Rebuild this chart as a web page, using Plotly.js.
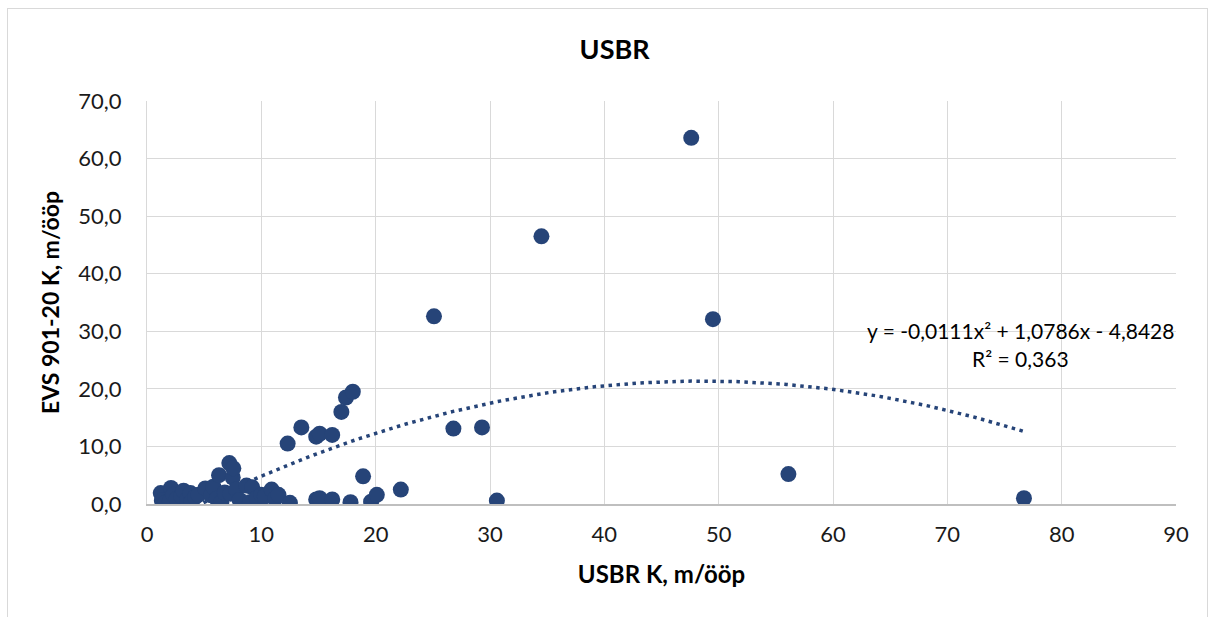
<!DOCTYPE html>
<html>
<head>
<meta charset="utf-8">
<script src="https://cdn.plot.ly/plotly-3.0.1.min.js"></script>
<style>
  html, body { margin: 0; padding: 0; background: #ffffff; }
  #wrap { position: relative; width: 1217px; height: 617px; overflow: hidden; }
  #chart { position: absolute; left: 0; top: 0; width: 1217px; height: 617px; }
  #frame { position: absolute; left: 7px; top: 8px; width: 1199px; height: 700px;
           border: 1px solid #d9d9d9; pointer-events: none; }
</style>
</head>
<body>
<div id="wrap">
  <div id="chart"></div>
  <div id="frame"></div>
</div>
<script>
// USBR K versus EVS 901-20 K, both in m/ööp
const usbrK = [
  1.2, 1.3, 1.6, 2.0, 2.1, 2.3, 2.6, 3.0, 3.2, 3.5,
  3.8, 3.9, 4.2, 4.5, 5.1, 5.6, 5.8, 6.1, 6.3, 6.5,
  6.8, 7.2, 7.5, 7.55, 7.3, 7.8, 8.1, 8.7, 9.0, 9.2,
  9.6, 10.0, 10.3, 10.9, 11.2, 11.5, 12.3, 12.5, 13.5, 14.8,
  15.1, 14.8, 15.0, 15.1, 16.2, 16.2, 17.0, 17.4, 18.0, 17.8,
  18.9, 19.6, 20.1, 22.2, 25.1, 26.8, 29.3, 30.6, 34.5, 47.6,
  49.5, 56.1, 76.7
];
const evsK = [
  1.9, 0.6, 0.2, 0.5, 2.8, 1.6, 0.9, 1.4, 2.3, 0.7,
  1.9, 0.4, 1.2, 1.6, 2.7, 1.5, 3.0, 0.9, 5.0, 0.3,
  2.0, 7.1, 4.6, 6.2, 1.8, 2.5, 0.7, 3.2, 0.3, 2.9,
  1.0, 1.6, 1.3, 2.5, 0.9, 1.6, 10.5, 0.2, 13.3, 11.7,
  12.2, 0.8, 0.5, 1.0, 12.0, 0.8, 16.0, 18.5, 19.5, 0.3,
  4.8, 0.4, 1.6, 2.5, 32.6, 13.1, 13.3, 0.6, 46.5, 63.6,
  32.1, 5.2, 1.0
];

// Second-order polynomial trend: y = a*x^2 + b*x + c
const trendCoef = { a: -0.0111, b: 1.0786, c: -4.8428 };
const trendR2 = 0.363;
const trendLabel = 'y = -0,0111x² + 1,0786x - 4,8428';
const r2Label = 'R² = 0,363';

const xTicks = [0, 10, 20, 30, 40, 50, 60, 70, 80, 90];
const yTicks = [0, 10, 20, 30, 40, 50, 60, 70];

const navy = '#264478';
const face = 'Lato, "Liberation Sans", sans-serif';

// sample the trend curve across the range of the data
const xMin = Math.min(...usbrK), xMax = Math.max(...usbrK);
const trendX = [], trendY = [];
const steps = 200;
for (let i = 0; i <= steps; i++) {
  const x = xMin + (xMax - xMin) * i / steps;
  trendX.push(x);
  trendY.push(trendCoef.a * x * x + trendCoef.b * x + trendCoef.c);
}

const traces = [
  {
    x: trendX, y: trendY, type: 'scatter', mode: 'lines',
    line: { color: navy, width: 3.5, dash: '3.5px,4.5px' },
    hoverinfo: 'skip', showlegend: false
  },
  {
    x: usbrK, y: evsK, type: 'scatter', mode: 'markers',
    marker: { color: navy, size: 16, line: { width: 0 } },
    showlegend: false
  }
];

const tickFont = { family: face, size: 22, color: '#1a1a1a' };

const layout = {
  width: 1217, height: 617,
  margin: { l: 147, r: 41, t: 101, b: 113 },
  paper_bgcolor: 'rgba(0,0,0,0)',
  plot_bgcolor: '#ffffff',
  separators: ', ',
  title: {
    text: '<b>USBR</b>',
    font: { family: face, size: 27, color: '#000000' },
    x: 0.505, xref: 'container', xanchor: 'center',
    y: 1 - 50 / 617, yref: 'container', yanchor: 'middle'
  },
  xaxis: {
    range: [0, 90], tickvals: xTicks, ticktext: xTicks.map(String),
    showgrid: true, gridcolor: '#d9d9d9', gridwidth: 1,
    zeroline: false, showline: true, linecolor: '#bfbfbf', linewidth: 1.5,
    ticks: '', ticklabelstandoff: 10,
    tickfont: tickFont,
    title: {
      text: '<b>USBR K, m/ööp</b>',
      font: { family: face, size: 24, color: '#000000' },
      standoff: 20
    }
  },
  yaxis: {
    range: [0, 70], tickvals: yTicks, ticktext: yTicks.map(v => v.toFixed(1).replace('.', ',')),
    showgrid: true, gridcolor: '#d9d9d9', gridwidth: 1,
    zeroline: false, showline: true, linecolor: '#d9d9d9', linewidth: 1,
    ticks: '', ticklabelstandoff: 20,
    tickfont: tickFont,
    title: {
      text: '<b>EVS 901-20 K, m/ööp</b>',
      font: { family: face, size: 23, color: '#000000' },
      standoff: 12
    }
  },
  annotations: [
    {
      text: trendLabel, x: 76.4, y: 30.1, xref: 'x', yref: 'y',
      xanchor: 'center', yanchor: 'middle', showarrow: false,
      font: { family: face, size: 21, color: '#000000' }
    },
    {
      text: r2Label, x: 76.4, y: 25.3, xref: 'x', yref: 'y',
      xanchor: 'center', yanchor: 'middle', showarrow: false,
      font: { family: face, size: 21, color: '#000000' }
    }
  ]
};

Plotly.newPlot('chart', traces, layout, { displayModeBar: false, staticPlot: true });
</script>
</body>
</html>
